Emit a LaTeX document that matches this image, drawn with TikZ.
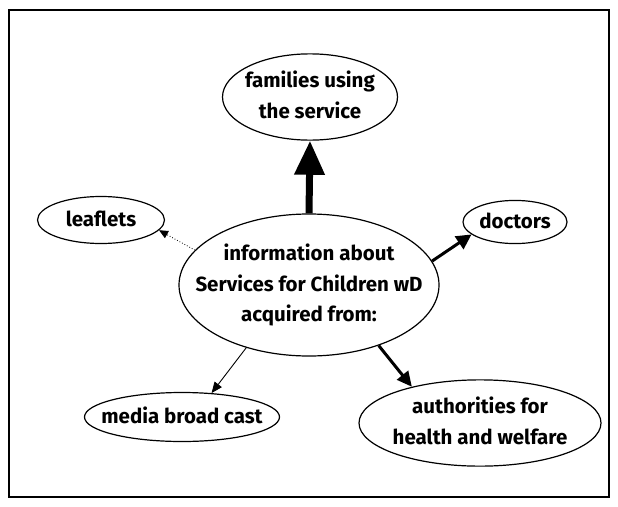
\documentclass[tikz,border=0pt]{standalone}
\usepackage{fontspec}
\setmainfont{Fira Sans}
\usetikzlibrary{shapes.geometric, arrows.meta}
% text block that does not widen the ellipse around it
\newcommand{\bubbletext}[1]{\makebox[0pt]{\begin{tabular}{@{}c@{}}#1\end{tabular}}}

\begin{document}
\begin{tikzpicture}[x=1pt, y=-1pt,
  bubble/.style={draw, ellipse, inner sep=0pt, line width=1.2pt, font=\fontsize{20.5}{30.5}\selectfont\bfseries},
]
  \useasboundingbox (0,0) rectangle (618,506);
  % Frame
  \draw[line width=1.5pt] (9,10) rectangle (609,497);

  % Centre
  \node[bubble, minimum width=260pt, minimum height=142pt] (info) at (309,285) {\bubbletext{information about\\Services for Children wD\\acquired from:}};

  % Sources
  \node[bubble, minimum width=175pt, minimum height=81pt] (families) at (310,97) {\bubbletext{families using\\the service}};
  \node[bubble, minimum width=127pt, minimum height=47pt] (leaflets) at (101,220) {\bubbletext{leaflets}};
  \node[bubble, minimum width=104pt, minimum height=40pt] (doctors) at (515,222) {\bubbletext{doctors}};
  \node[bubble, minimum width=195pt, minimum height=49pt] (media) at (182,417) {\bubbletext{media broad cast}};
  \node[bubble, minimum width=242pt, minimum height=80pt] (authorities) at (480,423) {\bubbletext{authorities for\\health and welfare}};

  % Connections
  \draw[-{Triangle[width=29pt,length=34pt]}, line width=7pt] (info.north) -- (families.south);
  \draw[-{Triangle[width=15pt,length=15pt]}, line width=3pt] (info.11) -- (doctors.196);
  \draw[-{Triangle[width=14pt,length=15pt]}, line width=3pt] (info.-41) -- (authorities.152);
  \draw[-{Triangle[width=9pt,length=11pt]}, line width=0.9pt] (info.225) -- (media.39);
  \draw[-{Triangle[width=8pt,length=9pt]}, line width=0.8pt, dotted] (info.163) -- (leaflets.-10);
\end{tikzpicture}
\end{document}
